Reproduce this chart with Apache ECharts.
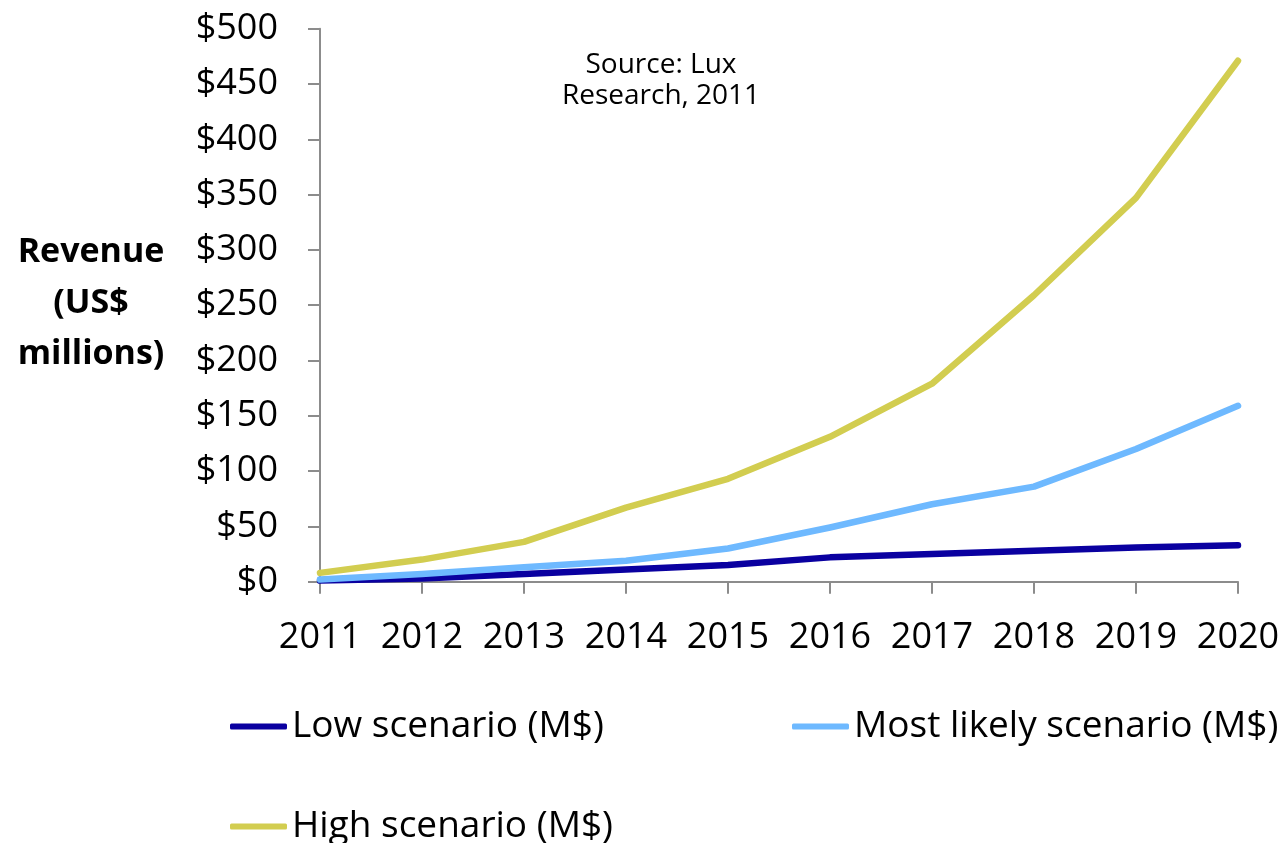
<!DOCTYPE html>
<html>
<head>
<meta charset="utf-8">
<script src="https://cdn.jsdelivr.net/npm/echarts@6/dist/echarts.min.js"></script>
<style>
  html, body { margin: 0; padding: 0; background: #ffffff; }
  #chart { width: 1286px; height: 843px; }
</style>
</head>
<body>
<div id="chart"></div>
<script>
// Revenue forecast by scenario, US$ millions
const years = ['2011', '2012', '2013', '2014', '2015', '2016', '2017', '2018', '2019', '2020'];
const lowScenario = [1, 3, 7, 11, 15, 22, 25, 28, 31, 33];
const likelyScenario = [2, 7, 13, 19, 30, 49, 70, 86, 120, 159];
const highScenario = [8, 20, 36, 67, 93, 131, 179, 259, 347, 471];
const seriesNames = ['Low scenario (M$)', 'Most likely scenario (M$)', 'High scenario (M$)'];
const seriesColors = ['#0a00a0', '#6eb9ff', '#d2cd50'];

const FONT = '"Open Sans", "Noto Sans", sans-serif';
const axisGray = '#8c8c8c';

const chart = echarts.init(document.getElementById('chart'), null, { renderer: 'canvas' });

function lineSeries(name, data, color) {
  return {
    name: name,
    type: 'line',
    data: data,
    symbol: 'none',
    showSymbol: false,
    itemStyle: { color: color },
    lineStyle: { color: color, width: 6.5, cap: 'round', join: 'round' }
  };
}

function legendFor(name, left, top) {
  return {
    data: [name],
    left: left,
    top: top,
    padding: 0,
    icon: 'roundRect',
    itemWidth: 57,
    itemHeight: 6,
    itemGap: 0,
    selectedMode: false,
    textStyle: { fontFamily: FONT, fontSize: 37, color: '#000000' }
  };
}

chart.setOption({
  animation: false,
  backgroundColor: '#ffffff',
  grid: { left: 320, right: 48, top: 28.7, bottom: 261.3, containLabel: false },
  xAxis: {
    type: 'category',
    data: years,
    boundaryGap: false,
    axisLine: { show: true, lineStyle: { color: axisGray, width: 2 } },
    axisTick: { show: true, inside: false, length: 12, interval: 0, lineStyle: { color: axisGray, width: 2 } },
    axisLabel: { interval: 0, margin: 38, fontFamily: FONT, fontSize: 36, color: '#000000' },
    splitLine: { show: false }
  },
  yAxis: {
    type: 'value',
    min: 0,
    max: 500,
    interval: 50,
    axisLine: { show: true, lineStyle: { color: axisGray, width: 2 } },
    axisTick: { show: true, inside: false, length: 12, lineStyle: { color: axisGray, width: 2 } },
    axisLabel: { margin: 42, fontFamily: FONT, fontSize: 36, color: '#000000', formatter: v => '$' + v },
    splitLine: { show: false }
  },
  legend: [
    legendFor(seriesNames[0], 230, 708),
    legendFor(seriesNames[1], 792, 708),
    legendFor(seriesNames[2], 230, 808)
  ],
  graphic: [
    {
      type: 'text',
      x: 91,
      y: 227,
      style: {
        text: 'Revenue\n(US$\nmillions)',
        align: 'center',
        verticalAlign: 'top',
        fontFamily: FONT,
        fontWeight: 'bold',
        fontSize: 34,
        lineHeight: 51,
        fill: '#000000'
      }
    },
    {
      type: 'text',
      x: 661,
      y: 49.5,
      style: {
        text: 'Source: Lux\nResearch, 2011',
        align: 'center',
        verticalAlign: 'top',
        fontFamily: FONT,
        fontSize: 28,
        lineHeight: 31,
        fill: '#000000'
      }
    }
  ],
  series: [
    lineSeries(seriesNames[0], lowScenario, seriesColors[0]),
    lineSeries(seriesNames[1], likelyScenario, seriesColors[1]),
    lineSeries(seriesNames[2], highScenario, seriesColors[2])
  ]
});
</script>
</body>
</html>
